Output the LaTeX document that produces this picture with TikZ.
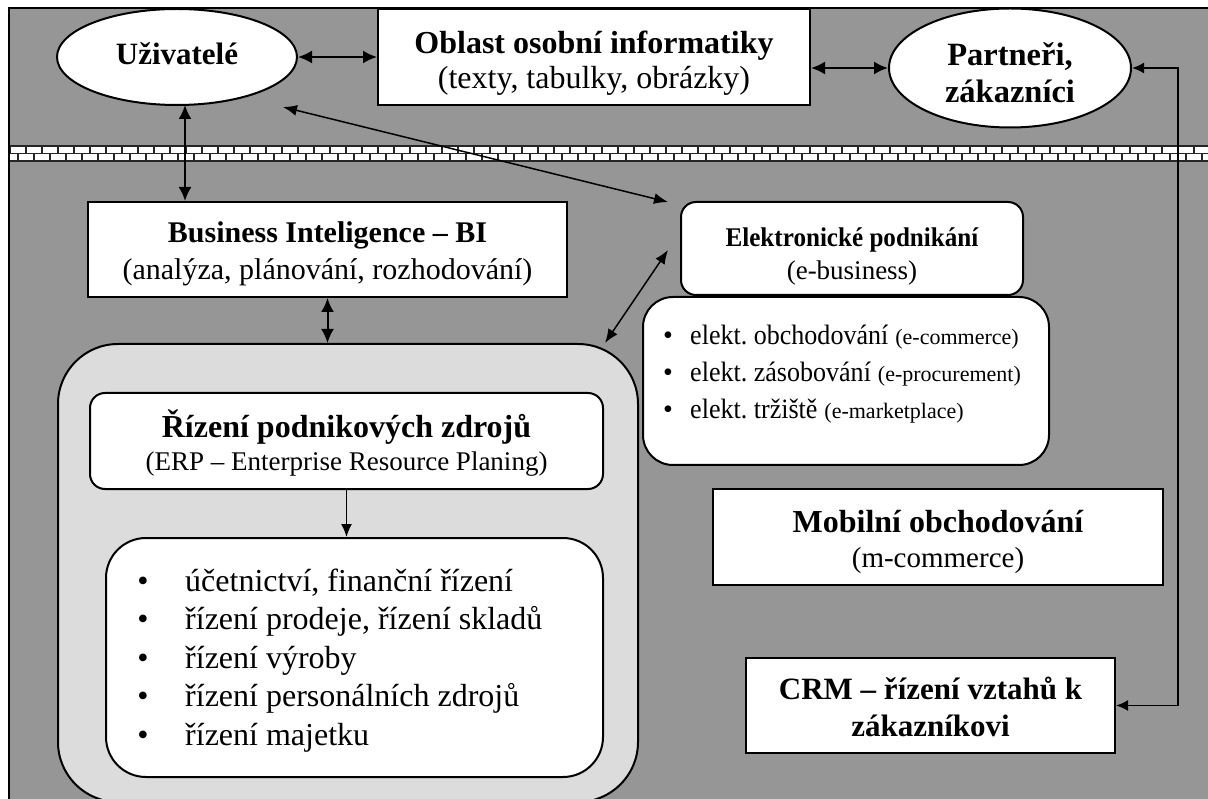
\documentclass[tikz,border=0pt]{standalone}
\usepackage{fontspec}
\usepackage{graphicx}
\setmainfont{Liberation Serif}
\usetikzlibrary{shapes.geometric,arrows.meta}
\definecolor{bggray}{RGB}{150,150,150}
\definecolor{lgray}{RGB}{220,220,220}
\newcommand{\fs}[2]{\fontsize{#1}{#2}\selectfont}
\newcommand{\cond}[1]{\scalebox{0.93}[1]{#1}}
\frenchspacing
\tikzset{
  box/.style={draw=black, line width=2pt, fill=white, inner sep=0pt, align=center},
  ell/.style={box, ellipse},
  lbl/.style={inner sep=0pt, align=center},
  brick/.style={draw=black!85, line width=1.1pt, fill=white},
  txt/.style={inner sep=0pt, anchor=base west},
  bul/.style={inner sep=0pt, anchor=base},
  dbl/.style={line width=2pt, {Latex[length=14pt,width=13pt]}-{Latex[length=14pt,width=13pt]}},
  dblthin/.style={line width=1.5pt, {Latex[length=14pt,width=11pt]}-{Latex[length=14pt,width=11pt]}},
  sgl/.style={line width=1.5pt, -{Latex[length=13pt,width=11pt]}},
  dblcrm/.style={line width=1.8pt, {Latex[length=12pt,width=11pt]}-{Latex[length=12pt,width=11pt]}},
}
\begin{document}
\begin{tikzpicture}[x=1pt,y=-1pt]
\useasboundingbox (0,0) rectangle (1208,799);
\fill[white] (0,0) rectangle (1208,799);
\fill[bggray] (9,8) rectangle (1212,803);
\draw[line width=2pt] (9,805) -- (9,8) -- (1212,8);

% brick separator
\begin{scope}
\clip (10,145) rectangle (1208,163);
\foreach \i in {0,...,76} {\draw[brick] ({10+16*\i},146) rectangle ++(16,7.5);}
\foreach \i in {0,...,76} {\draw[brick] ({2+16*\i},153.5) rectangle ++(16,7.5);}
\end{scope}

% top row
\node[ell, minimum width=240pt, minimum height=96pt] (user) at (177,57) {};
\node[lbl, font=\fs{31}{36}] (usertxt) at (177,54) {\bfseries Uživatelé};
\node[box, minimum width=432pt, minimum height=96pt] (osob) at (594,57) {};
\node[lbl, font=\fs{32}{35}] (osobtxt) at (594,63)
  {\bfseries Oblast osobní informatiky\\(texty, tabulky, obrázky)};
\node[ell, minimum width=242pt, minimum height=119pt] (part) at (1010,68) {};
\node[lbl, font=\fs{32.5}{37}] (parttxt) at (1010,73)
  {\bfseries Partneři,\\\bfseries zákazníci};

% ERP area
\node[draw=black, line width=2pt, fill=lgray, rounded corners=60pt,
  minimum width=580pt, minimum height=458pt, inner sep=0pt] (erpo) at (348,573) {};
\node[box, rounded corners=15pt, minimum width=513pt, minimum height=96pt] (erph) at (346.5,441) {};
\node[lbl, font=\fs{32}{33}] (erphtxt) at (346.5,443)
  {\bfseries Řízení podnikových zdrojů\\{\fs{27}{33}(ERP – Enterprise Resource Planing)}};
\node[box, rounded corners=40pt, minimum width=497pt, minimum height=239pt] (erpl) at (354.5,657.5) {};
\begin{scope}[every node/.append style={font=\fs{32}{38}}]
\node[bul] (b1) at (143,591) {•};
\node[txt] (t1) at (185,591) {účetnictví, finanční řízení};
\node[bul] (b2) at (143,629.5) {•};
\node[txt] (t2) at (185,629.5) {řízení prodeje, řízení skladů};
\node[bul] (b3) at (143,668) {•};
\node[txt] (t3) at (185,668) {řízení výroby};
\node[bul] (b4) at (143,706.5) {•};
\node[txt] (t4) at (185,706.5) {řízení personálních zdrojů};
\node[bul] (b5) at (143,745) {•};
\node[txt] (t5) at (185,745) {řízení majetku};
\end{scope}

% BI
\node[box, minimum width=479pt, minimum height=95pt] (bi) at (327.5,249.5) {};
\node[lbl, font=\fs{30}{37}] (bitxt) at (327.5,253.5)
  {\bfseries Business Inteligence – BI\\(analýza, plánování, rozhodování)};

% e-business
\node[box, rounded corners=15pt, minimum width=342pt, minimum height=93pt] (ebus) at (852,248.5) {};
\node[lbl, font=\fs{27}{33}] (ebustxt) at (852,256)
  {\cond{\bfseries Elektronické podnikání}\\(e-business)};
\node[box, rounded corners=30pt, minimum width=406pt, minimum height=168pt] (elist) at (846,381) {};
\begin{scope}[every node/.append style={font=\fs{28}{30}}]
\node[bul] (e1) at (668,345) {•};
\node[txt] (et1) at (690,345) {\cond{elekt. obchodování} {\fs{22}{26}(e-commerce)}};
\node[bul] (e2) at (668,382) {•};
\node[txt] (et2) at (690,382) {\cond{elekt. zásobování} {\fs{22}{26}(e-procurement)}};
\node[bul] (e3) at (668,419) {•};
\node[txt] (et3) at (690,419) {\cond{elekt. tržiště} {\fs{22}{26}(e-marketplace)}};
\end{scope}

% mobile, CRM
\node[box, minimum width=450pt, minimum height=96pt] (mob) at (938,537) {};
\node[lbl, font=\fs{32}{35}] (mobtxt) at (938,542)
  {\bfseries Mobilní obchodování\\{\fs{29}{35}(m-commerce)}};
\node[box, minimum width=369pt, minimum height=95pt] (crm) at (930.5,705.5) {};
\node[lbl, font=\fs{31}{37}] (crmtxt) at (930.5,707)
  {\bfseries CRM – řízení vztahů k\\\bfseries zákazníkovi};

% connectors
\draw[dbl] (user.east) -- (user.east -| osob.west);
\draw[dbl] (osob.east |- part.west) -- (part.west);
\coordinate (ub) at (185,105);
\draw[dbl] (ub) -- (ub |- bi.north);
\draw[dbl] (bi.south) -- (bi.south |- erpo.north);
\draw[sgl] (erph.south) -- (erph.south |- erpl.north);
\coordinate (d1a) at (283,107);
\coordinate (d1b) at (668,202);
\draw[dblthin] (d1a) -- (d1b);
\coordinate (d2a) at (605,343);
\coordinate (d2b) at (668,250);
\draw[dblthin] (d2a) -- (d2b);
\coordinate (bend) at (1178,0);
\draw[dblcrm] (part.east) -| (bend |- crm.east) -- (crm.east);
\end{tikzpicture}
\end{document}
